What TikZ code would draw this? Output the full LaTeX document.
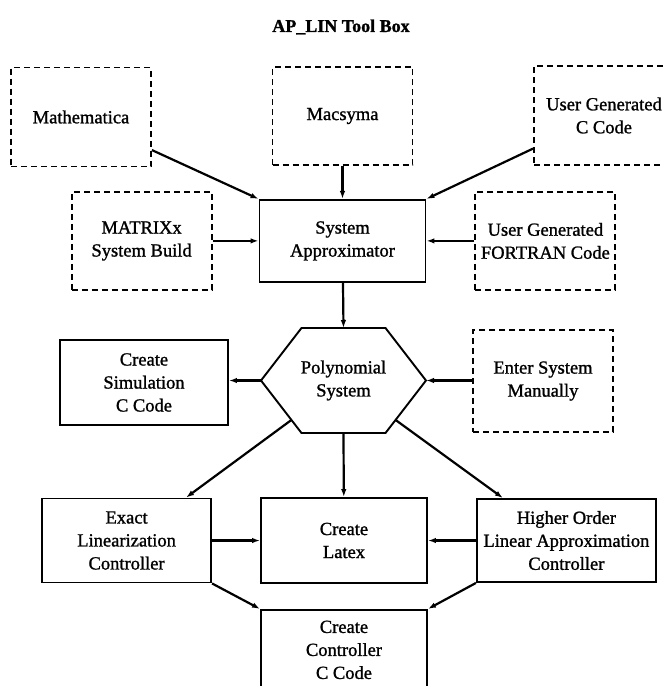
\documentclass[tikz,border=0pt]{standalone}
\usepackage{fontspec}
\setmainfont{Liberation Serif}[FakeBold=1.2]
\usetikzlibrary{arrows.meta,positioning}

\begin{document}
\begin{tikzpicture}[
  x=1pt, y=-1pt,
  font=\fontsize{18.5}{23}\selectfont,
  src/.style={draw, dash pattern=on 6pt off 4pt, line width=1.9pt, align=center,
    inner sep=0pt, minimum width=140pt, minimum height=99pt},
  box/.style={draw, line width=1.9pt, align=center, inner sep=0pt,
    minimum width=166pt, minimum height=84pt},
  arr/.style={-{Latex[length=8pt,width=5.5pt]}, line width=2.2pt}
]
\useasboundingbox (0,0) rectangle (664,686);
\clip (0,0) rectangle (664,686);
\node[font=\fontsize{18}{22}\selectfont\bfseries] (title) at (341,27) {AP\_LIN Tool Box};
% input sources
\node[src] (math) at (81,117) {Mathematica};
\node[src, minimum height=98pt] (mac) at (342.5,116) {Macsyma};
\node[src] (ucc) at (604,115.5) {User Generated\\C Code};
\node[box, minimum height=82pt, below=33pt of mac] (sa) {System\\Approximator};
\node[src, minimum height=98pt, left=46pt of sa] (mtx) {MATRIXx\\System Build};
\node[src, minimum height=98pt, right=48pt of sa] (ftn) {User Generated\\FORTRAN Code};
% polynomial system
\node[align=center] (poly) at (343.5,380.5) {Polynomial\\System};
\draw[line width=1.9pt] ([shift={(-82.5,0)}]poly.center) coordinate (pw)
  -- ++(40.5,-52.5) -- ++(84,0) -- ++(40.5,52.5) coordinate (pe)
  -- ++(-40.5,52.5) -- ++(-84,0) -- cycle;
\path (poly.center) ++(0,-52.5) coordinate (pn)
  (poly.center) ++(0,52.5) coordinate (ps)
  (poly.center) ++(-52,39.4) coordinate (psw)
  (poly.center) ++(52,39.4) coordinate (pse);
\node[box, minimum width=168pt, minimum height=85pt] (sim) at (144,382.5) {Create\\Simulation\\C Code};
\node[src, minimum height=102pt] (ent) at (543,381) {Enter System\\Manually};
% outputs
\node[box, minimum height=85pt] (ltx) at (344,540.5) {Create\\Latex};
\node[box, minimum width=169pt, left=48pt of ltx] (exl) {Exact\\Linearization\\Controller};
\node[box, minimum width=179pt, minimum height=83pt, right=48pt of ltx] (hoc) {Higher Order\\Linear Approximation\\Controller};
\node[box, minimum height=80pt, below=25pt of ltx] (ccc) {Create\\Controller\\C Code};
% connectors
\draw[arr] (math.-25) -- (sa.north west);
\draw[arr] (mac) -- (sa);
\draw[arr] (ucc.205) -- (sa.north east);
\draw[arr] (mtx.east) -- (mtx.east -| sa.west);
\draw[arr] (ftn.west) -- (ftn.west -| sa.east);
\draw[arr] (sa) -- (pn);
\draw[arr] (pw) -- (pw -| sim.east);
\draw[arr] (ent.west |- pe) -- (pe);
\draw[arr] (psw) -- ([xshift=-26pt]exl.north east);
\draw[arr] (ps) -- (ltx);
\draw[arr] (pse) -- ([xshift=27pt]hoc.north west);
\draw[arr] (exl.east) -- (exl.east -| ltx.west);
\draw[arr] (hoc.west) -- (hoc.west -| ltx.east);
\draw[arr] (exl.south east) -- (ccc.north west);
\draw[arr] (hoc.south west) -- (ccc.north east);
\end{tikzpicture}
\end{document}
